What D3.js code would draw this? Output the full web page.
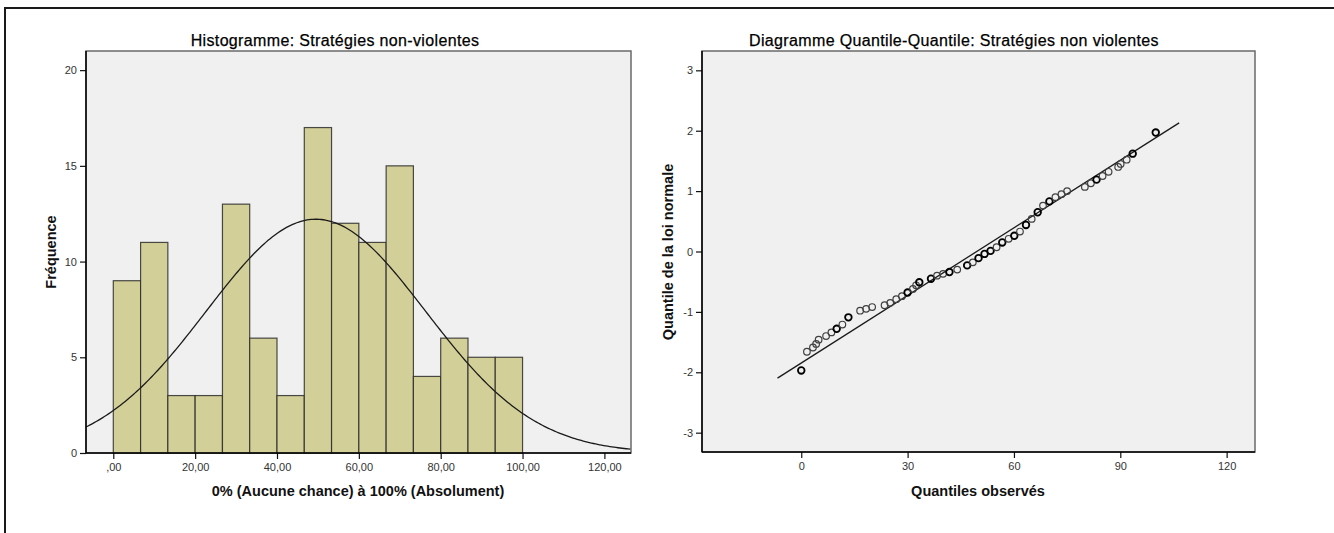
<!DOCTYPE html>
<html>
<head>
<meta charset="utf-8">
<title>Stratégies non-violentes</title>
<script src="https://d3js.org/d3.v7.min.js"></script>
<style>
  body { margin: 0; background: #fff; }
  svg { display: block; font-family: "Liberation Sans", Arial, sans-serif; }
  .tick text { font-size: 11px; fill: #333; }
  .tick line { stroke: #111; stroke-width: 1.2; }
  .domain { display: none; }
  .title { font-size: 16px; letter-spacing: 0.35px; fill: #000; stroke: #000; stroke-width: 0.25px; }
  .axis-title { font-size: 14.5px; font-weight: bold; fill: #111; }
</style>
</head>
<body>
<div id="chart"></div>
<script>
// ---- histogram data ----
var histBinEdges = [0, 6.67, 13.33, 20, 26.67, 33.33, 40, 46.67, 53.33, 60, 66.67, 73.33, 80, 86.67, 93.33, 100];
var histCounts = [9, 11, 3, 3, 13, 6, 3, 17, 12, 11, 15, 4, 6, 5, 5];
var histXTicks = [0, 20, 40, 60, 80, 100, 120];
var histXLabels = [",00", "20,00", "40,00", "60,00", "80,00", "100,00", "120,00"];
var histYTicks = [0, 5, 10, 15, 20];

// fitted normal curve parameters
var normalMean = 49.5;
var normalSd = 26.8;
var nCases = 123;

// ---- Q-Q plot data (observed value, expected normal quantile, overlapping cases) ----
var qqObserved = [0, 1.6, 3.3, 4.2, 4.9, 7.0, 8.5, 10.0, 11.6, 13.3, 16.6, 18.3, 20.0, 23.5, 25.1, 26.8,
                  28.4, 30.0, 31.5, 32.4, 33.3, 36.6, 38.3, 40.0, 41.8, 44.0, 46.8, 48.4, 50.0, 51.7,
                  53.4, 55.1, 56.7, 58.5, 60.1, 61.7, 63.4, 65.0, 66.7, 68.2, 70.0, 71.7, 73.4, 75.0,
                  80.0, 81.7, 83.3, 85.0, 86.7, 89.4, 90.1, 91.8, 93.5, 100];
var qqExpected = [-1.97, -1.66, -1.59, -1.53, -1.46, -1.40, -1.34, -1.28, -1.21, -1.09, -0.98, -0.95, -0.92, -0.89, -0.85, -0.79,
                  -0.74, -0.68, -0.62, -0.56, -0.51, -0.45, -0.40, -0.37, -0.34, -0.30, -0.23, -0.18, -0.11, -0.04,
                  0.01, 0.07, 0.15, 0.21, 0.26, 0.33, 0.44, 0.54, 0.65, 0.76, 0.83, 0.90, 0.95, 1.00,
                  1.07, 1.13, 1.19, 1.25, 1.32, 1.40, 1.45, 1.52, 1.62, 1.97];
var qqTies = [2, 1, 1, 1, 1, 1, 1, 2, 1, 2, 1, 1, 1, 1, 1, 1,
              1, 2, 1, 1, 2, 2, 1, 1, 2, 1, 2, 1, 2, 2,
              2, 1, 2, 1, 2, 1, 2, 1, 2, 1, 2, 1, 1, 1,
              1, 1, 2, 1, 1, 1, 1, 1, 2, 2];
var qqLineX = [-6.7, 106.6];
var qqXTicks = [0, 30, 60, 90, 120];
var qqYTicks = [-3, -2, -1, 0, 1, 2, 3];

// ---- canvas ----
var width = 1334, height = 533;
var svg = d3.select("#chart").append("svg")
    .attr("width", width)
    .attr("height", height);

// outer frame (top and left edges visible)
svg.append("path")
    .attr("d", "M5," + height + " V8 H" + width)
    .attr("fill", "none")
    .attr("stroke", "#1a1a1a")
    .attr("stroke-width", 2);

function drawPanel(x, y) {
  var x0 = x.range()[0], x1 = x.range()[1];
  var y0 = y.range()[0], y1 = y.range()[1];
  svg.append("rect")
      .attr("x", x0).attr("y", y1)
      .attr("width", x1 - x0).attr("height", y0 - y1)
      .attr("fill", "#f0f0f0")
      .attr("stroke", "#6a6a6a")
      .attr("stroke-width", 1.5);
}

// plain hyphen for negatives, like the original
var intFmt = function(d) { return String(d); };

function drawAxes(x, y, xTicks, xFmt, yTicks) {
  var x0 = x.range()[0], y0 = y.range()[0], y1 = y.range()[1], x1 = x.range()[1];
  svg.append("g")
      .attr("transform", "translate(0," + y0 + ")")
      .call(d3.axisBottom(x).tickValues(xTicks).tickFormat(xFmt).tickSize(6).tickPadding(4).tickSizeOuter(0));
  svg.append("g")
      .attr("transform", "translate(" + x0 + ",0)")
      .call(d3.axisLeft(y).tickValues(yTicks).tickFormat(intFmt).tickSize(6).tickPadding(3).tickSizeOuter(0));
  // axis lines
  svg.append("line")
      .attr("x1", x0).attr("x2", x1).attr("y1", y0).attr("y2", y0)
      .attr("stroke", "#000").attr("stroke-width", 1.5);
  svg.append("line")
      .attr("x1", x0).attr("x2", x0).attr("y1", y0).attr("y2", y1)
      .attr("stroke", "#000").attr("stroke-width", 1.5);
}

// ================= Histogram =================
var hx = d3.scaleLinear().domain([-6.67, 126.5]).range([86, 631]);
var hy = d3.scaleLinear().domain([0, 21]).range([453, 51]);

drawPanel(hx, hy);

svg.append("g").selectAll("rect")
    .data(histCounts)
    .enter().append("rect")
    .attr("x", function(d, i) { return hx(histBinEdges[i]); })
    .attr("y", function(d) { return hy(d); })
    .attr("width", function(d, i) { return hx(histBinEdges[i + 1]) - hx(histBinEdges[i]); })
    .attr("height", function(d) { return hy(0) - hy(d); })
    .attr("fill", "#d3cf98")
    .attr("stroke", "#2b2b2b")
    .attr("stroke-opacity", 0.85)
    .attr("stroke-width", 1.2);

// normal curve scaled to counts
var binW = histBinEdges[1] - histBinEdges[0];
var curvePts = d3.range(hx.domain()[0], hx.domain()[1] + 0.01, 0.5).map(function(v) {
  var z = (v - normalMean) / normalSd;
  return [v, nCases * binW * Math.exp(-0.5 * z * z) / (normalSd * Math.sqrt(2 * Math.PI))];
});
svg.append("path")
    .datum(curvePts)
    .attr("fill", "none")
    .attr("stroke", "#1a1a1a")
    .attr("stroke-width", 1.3)
    .attr("d", d3.line().x(function(d) { return hx(d[0]); }).y(function(d) { return hy(d[1]); }));

drawAxes(hx, hy, histXTicks, function(d, i) { return histXLabels[i]; }, histYTicks);

svg.append("text").attr("class", "title")
    .attr("x", 335).attr("y", 46)
    .attr("text-anchor", "middle")
    .text("Histogramme: Stratégies non-violentes");
svg.append("text").attr("class", "axis-title")
    .attr("x", 358).attr("y", 496)
    .attr("text-anchor", "middle")
    .text("0% (Aucune chance) à 100% (Absolument)");
svg.append("text").attr("class", "axis-title")
    .attr("transform", "translate(55.5,252) rotate(-90)")
    .attr("text-anchor", "middle")
    .text("Fréquence");

// ================= Q-Q plot =================
var qx = d3.scaleLinear().domain([-28, 128]).range([702, 1255]);
var qy = d3.scaleLinear().domain([-3.32, 3.32]).range([452, 51]);

drawPanel(qx, qy);

svg.append("line")
    .attr("x1", qx(qqLineX[0])).attr("y1", qy((qqLineX[0] - normalMean) / normalSd))
    .attr("x2", qx(qqLineX[1])).attr("y2", qy((qqLineX[1] - normalMean) / normalSd))
    .attr("stroke", "#1a1a1a")
    .attr("stroke-width", 1.3);

svg.append("g").selectAll("circle")
    .data(qqObserved)
    .enter().append("circle")
    .attr("cx", function(d) { return qx(d); })
    .attr("cy", function(d, i) { return qy(qqExpected[i]); })
    .attr("r", 3.3)
    .attr("fill", "none")
    .attr("stroke", function(d, i) { return qqTies[i] > 1 ? "#000" : "#404040"; })
    .attr("stroke-width", function(d, i) { return qqTies[i] > 1 ? 1.8 : 1.2; });

drawAxes(qx, qy, qqXTicks, intFmt, qqYTicks);

svg.append("text").attr("class", "title")
    .attr("x", 954).attr("y", 46)
    .attr("text-anchor", "middle")
    .text("Diagramme Quantile-Quantile: Stratégies non violentes");
svg.append("text").attr("class", "axis-title")
    .attr("x", 978).attr("y", 496)
    .attr("text-anchor", "middle")
    .text("Quantiles observés");
svg.append("text").attr("class", "axis-title")
    .attr("transform", "translate(673,252) rotate(-90)")
    .attr("text-anchor", "middle")
    .text("Quantile de la loi normale");
</script>
</body>
</html>
